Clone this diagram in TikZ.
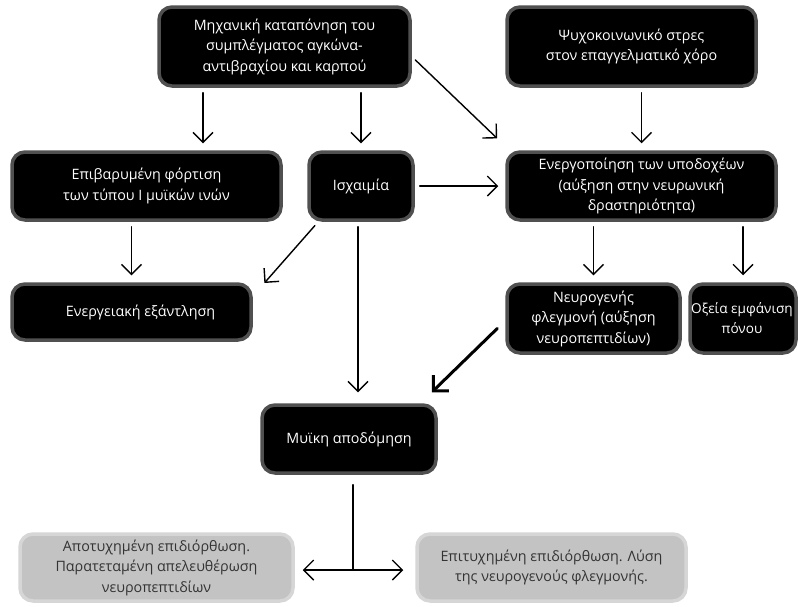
\documentclass[tikz,border=0pt]{standalone}
\usepackage{fontspec}
\setmainfont{Open Sans}
\usetikzlibrary{arrows.meta}
\definecolor{rimgray}{HTML}{505050}
\definecolor{boxgray}{HTML}{C3C3C3}
\definecolor{rimlight}{HTML}{D6D6D6}
\begin{document}
\begin{tikzpicture}[x=1pt,y=-1pt,line cap=round,
  >={Straight Barb[length=10pt,width=20pt,line width=1.4pt]},
  font=\fontsize{14.3}{20.5}\selectfont,
  darkbox/.style={fill=black,draw=rimgray,line width=3.5pt,rounded corners=13pt,
    text=white,align=center,inner sep=1pt},
  lightbox/.style={fill=boxgray,draw=rimlight,line width=3.5pt,rounded corners=13pt,
    text=black!80,align=center,inner sep=1pt},
  arr/.style={->,line width=1.4pt,shorten <=5pt,shorten >=7pt},
  bigarr/.style={->,line width=3pt,>={Straight Barb[length=11pt,width=22pt,line width=3pt]}}]
\useasboundingbox (0,0) rectangle (798,606);
\node[darkbox,minimum width=251,minimum height=79] (strain) at (284.5,46.5) {Μηχανική καταπόνηση του\\συμπλέγματος αγκώνα-\\αντιβραχίου και καρπού};
\node[darkbox,minimum width=249,minimum height=79] (stress) at (631.5,46.5) {Ψυχοκοινωνικό στρες\\στον επαγγελματικό χόρο};
\node[darkbox,minimum width=269,minimum height=68] (load) at (146.5,186) {Επιβαρυμένη φόρτιση\\των τύπου Ι μυϊκών ινών};
\node[darkbox,minimum width=104,minimum height=68] (isch) at (361,186) {Ισχαιμία};
\node[darkbox,minimum width=269,minimum height=68] (recep) at (641.5,186) {Ενεργοποίηση των υποδοχέων\\(αύξηση στην νευρωνική\\δραστηριότητα)};
\node[darkbox,minimum width=239,minimum height=56] (energy) at (131.5,312) {\hspace{18pt}Ενεργειακή εξάντληση};
\node[darkbox,minimum width=173,minimum height=69] (neuro) at (593.5,318.5) {Νευρογενής\\φλεγμονή (αύξηση\\νευροπεπτιδίων)};
\node[darkbox,minimum width=106,minimum height=69] (pain) at (743,318.5) {};
\node[text=white,align=center,inner sep=0pt,font=\fontsize{13.6}{20}\selectfont] (paintext) at (742,318.5) {Οξεία εμφάνιση\\πόνου};
\node[darkbox,minimum width=174,minimum height=68] (musc) at (349,439) {Μυϊκη αποδόμηση};
\node[lightbox,minimum width=273,minimum height=67] (fail) at (156.5,567.5) {Αποτυχημένη επιδιόρθωση.\\Παρατεταμένη απελευθέρωση\\νευροπεπτιδίων};
\node[lightbox,minimum width=269,minimum height=67] (heal) at (551.5,567.5) {Επιτυχημένη επιδιόρθωση. Λύση\\της νευρογενούς φλεγμονής.};
\coordinate (fork) at (353,570);
\draw[arr] ([xshift=56.5pt]load.north |- strain.south) -- ([xshift=56.5pt]load.north);
\draw[arr] (isch.north |- strain.south) -- (isch.north);
\draw[arr] ([yshift=-10pt]strain.east) -- ([xshift=-3pt,yshift=7pt]recep.north west);
\draw[arr] (recep.north |- stress.south) -- (recep.north);
\draw[arr] (isch.east) -- (recep.west);
\draw[arr] (energy.north |- load.south) -- (energy.north);
\draw[arr] ([xshift=11pt]isch.south west) -- ([xshift=7pt,yshift=-6pt]energy.north east);
\draw[arr,shorten >=11pt] ([xshift=-3pt]isch.south) -- ([xshift=-3pt]isch.south |- musc.north);
\draw[arr] (neuro.north |- recep.south) -- (neuro.north);
\draw[arr] (pain.north |- recep.south) -- (pain.north);
\draw[bigarr] ([xshift=-8pt,yshift=-10pt]neuro.west) -- ([xshift=-6pt,yshift=11pt]musc.north east);
\draw[line width=1.4pt,shorten <=10pt] ([xshift=4pt]musc.south) -- (fork);
\draw[arr,shorten <=0pt,shorten >=8pt] (fork) -- (fork -| fail.east);
\draw[arr,shorten <=0pt,shorten >=12pt] (fork) -- (fork -| heal.west);
\end{tikzpicture}
\end{document}
